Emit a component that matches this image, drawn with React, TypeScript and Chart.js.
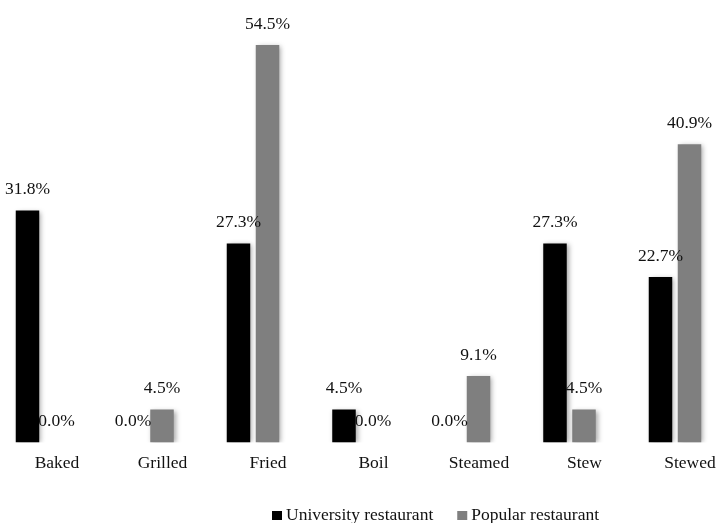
import React, { useEffect, useRef } from "react";
import { Chart, registerables } from "chart.js";

Chart.register(...registerables);

const categories = ["Baked", "Grilled", "Fried", "Boil", "Steamed", "Stew", "Stewed"];
const universityValues = [31.8, 0.0, 27.3, 4.5, 0.0, 27.3, 22.7];
const popularValues = [0.0, 4.5, 54.5, 0.0, 9.1, 4.5, 40.9];
const seriesNames = ["University restaurant", "Popular restaurant"];
const seriesColors = ["#000000", "#7f7f7f"];

const FONT = "'Liberation Serif', 'Times New Roman', serif";

const shadowPlugin = {
  id: "barShadow",
  beforeDatasetDraw(chart: any) {
    const ctx = chart.ctx;
    ctx.save();
    ctx.shadowColor = "rgba(0,0,0,0.35)";
    ctx.shadowBlur = 5;
    ctx.shadowOffsetX = 2;
    ctx.shadowOffsetY = 1;
  },
  afterDatasetDraw(chart: any) {
    chart.ctx.restore();
  },
};

const valueLabelPlugin = {
  id: "valueLabels",
  afterDatasetsDraw(chart: any) {
    const ctx = chart.ctx;
    ctx.save();
    ctx.font = `17.5px ${FONT}`;
    ctx.fillStyle = "#111";
    ctx.textAlign = "center";
    ctx.textBaseline = "middle";
    chart.data.datasets.forEach((ds: any, di: number) => {
      const meta = chart.getDatasetMeta(di);
      meta.data.forEach((el: any, i: number) => {
        const v = ds.data[i];
        ctx.fillText(v.toFixed(1) + "%", el.x, el.y - 21);
      });
    });
    ctx.restore();
  },
};

const customLegendPlugin = {
  id: "customLegend",
  afterDraw(chart: any) {
    const ctx = chart.ctx;
    ctx.save();
    ctx.font = `17.5px ${FONT}`;
    ctx.textBaseline = "middle";
    ctx.textAlign = "left";
    let x = 312;
    const y = 515;
    chart.data.datasets.forEach((ds: any) => {
      ctx.fillStyle = ds.backgroundColor;
      ctx.fillRect(x, y - 4, 10, 9);
      x += 14;
      ctx.fillStyle = "#111";
      ctx.fillText(ds.label, x, y);
      x += ctx.measureText(ds.label).width + 24;
    });
    ctx.restore();
  },
};

export default function App() {
  const ref = useRef<HTMLCanvasElement | null>(null);
  useEffect(() => {
    if (!ref.current) return;
    const chart = new Chart(ref.current, {
      type: "bar",
      data: {
        labels: categories,
        datasets: [
          {
            label: seriesNames[0],
            data: universityValues,
            backgroundColor: seriesColors[0],
            categoryPercentage: 0.55,
            barPercentage: 0.81,
          },
          {
            label: seriesNames[1],
            data: popularValues,
            backgroundColor: seriesColors[1],
            categoryPercentage: 0.55,
            barPercentage: 0.81,
          },
        ],
      },
      options: {
        animation: false,
        responsive: false,
        maintainAspectRatio: false,
        layout: { padding: { left: 29.25, right: 32.25, top: 5, bottom: 37.6 } },
        plugins: {
          legend: { display: false },
          tooltip: { enabled: false },
        },
        scales: {
          x: {
            grid: { display: false, drawTicks: false },
            border: { display: false },
            ticks: {
              color: "#111",
              font: { family: FONT, size: 17.5 },
              padding: 11,
              labelOffset: 15,
              maxRotation: 0,
              autoSkip: false,
            },
          },
          y: {
            display: false,
            min: 0,
            max: 60,
          },
        },
      },
      plugins: [shadowPlugin, valueLabelPlugin, customLegendPlugin],
    });
    return () => chart.destroy();
  }, []);

  return (
    <div style={{ position: "fixed", left: 0, top: 0, width: 717, height: 523, overflow: "hidden", background: "#fff" }}>
      <div style={{ position: "absolute", left: -40, top: 0, width: 800, height: 523 }}>
        <canvas ref={ref} width={800} height={523} style={{ width: 800, height: 523, display: "block" }} />
      </div>
    </div>
  );
}
